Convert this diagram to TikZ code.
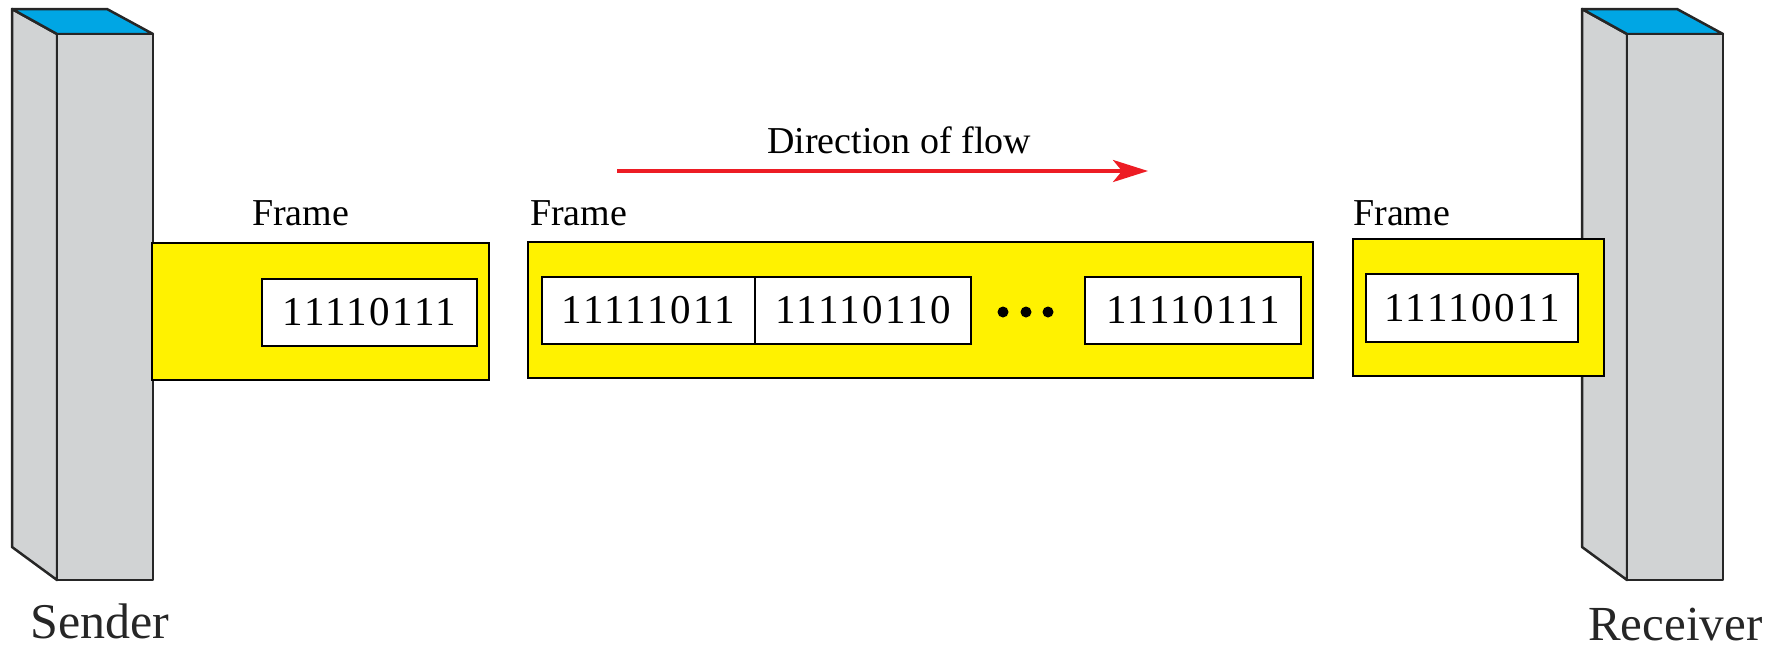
\documentclass[tikz,border=0pt]{standalone}
\usepackage{fontspec}
\setmainfont{Liberation Serif}
\usetikzlibrary{arrows.meta}
\definecolor{frameyellow}{RGB}{255,242,0}
\definecolor{colgray}{RGB}{209,211,212}
\definecolor{colblue}{RGB}{0,166,228}
\definecolor{flowred}{RGB}{237,28,36}
\begin{document}
\begin{tikzpicture}[x=1pt,y=-1pt,
  colpart/.style={draw=black!85, fill=colgray, line width=2.5pt, line join=round},
  coltop/.style={draw=black!85, fill=colblue, line width=2.5pt, line join=round},
  yframe/.style={draw=black, fill=frameyellow, line width=2pt, inner sep=0pt, outer sep=0pt, anchor=north west},
  bitbox/.style={draw=black, fill=white, line width=2pt, inner sep=0pt, outer sep=0pt, anchor=north west, font=\fontsize{41}{41}\selectfont\addfontfeature{LetterSpace=6}},
  lbl/.style={anchor=base west, inner sep=0pt, font=\fontsize{38}{38}\selectfont},
  endlbl/.style={anchor=base west, inner sep=0pt, text=black!85, font=\fontsize{50}{50}\selectfont},
  bitdot/.style={circle, fill=black, inner sep=0pt, minimum size=11pt},
  flow/.style={draw=flowred, line width=4pt, -{Stealth[length=35pt,width=22pt,inset=9pt]}}
]
\useasboundingbox (0,0) rectangle (1784,649);

% Sender column
\path[colpart] (12,9) -- (57,34) -- (57,580) -- (12,547) -- cycle;
\path[coltop] (12,9) -- (107,9) -- (153,34) -- (57,34) -- cycle;
\path[colpart] (57,34) rectangle (153,580);
\node[endlbl] (sender) at (30,638) {Sender};

% Receiver column
\path[colpart] (1582,9) -- (1627,34) -- (1627,580) -- (1582,547) -- cycle;
\path[coltop] (1582,9) -- (1677,9) -- (1723,34) -- (1627,34) -- cycle;
\path[colpart] (1627,34) rectangle (1723,580);
\node[endlbl, font=\fontsize{49}{49}\selectfont] (receiver) at (1588,640) {Receiver};

% Direction of flow
\node[lbl] (flowlbl) at (767,153) {Direction of flow};
\coordinate (flowS) at (617,171);
\coordinate (flowE) at (1148,171);
\draw[flow] (flowS) -- (flowE);

% Frame 1 (leaving sender)
\node[yframe, minimum width=337pt, minimum height=137pt] (f1) at (152,243) {};
\node[bitbox, minimum width=215pt, minimum height=67pt] (b1) at (262,279) {11110111};
\node[lbl] (f1lbl) at (252,225) {Frame};

% Frame 2 (in transit)
\node[yframe, minimum width=785pt, minimum height=136pt] (f2) at (528,242) {};
\node[bitbox, minimum width=213pt, minimum height=67pt] (b2a) at (542,277) {11111011};
\node[bitbox, minimum width=216pt, minimum height=67pt] (b2b) at (755,277) {11110110};
\node[bitbox, minimum width=216pt, minimum height=67pt] (b2c) at (1085,277) {11110111};
\node[bitdot] (d1) at (1003,312) {};
\node[bitdot] (d2) at (1026,312) {};
\node[bitdot] (d3) at (1048,312) {};
\node[lbl] (f2lbl) at (530,225) {Frame};

% Frame 3 (arriving at receiver)
\node[yframe, minimum width=251pt, minimum height=137pt] (f3) at (1353,239) {};
\node[bitbox, minimum width=212pt, minimum height=68pt] (b3) at (1366,274) {11110011};
\node[lbl] (f3lbl) at (1353,225) {Frame};
\end{tikzpicture}
\end{document}
